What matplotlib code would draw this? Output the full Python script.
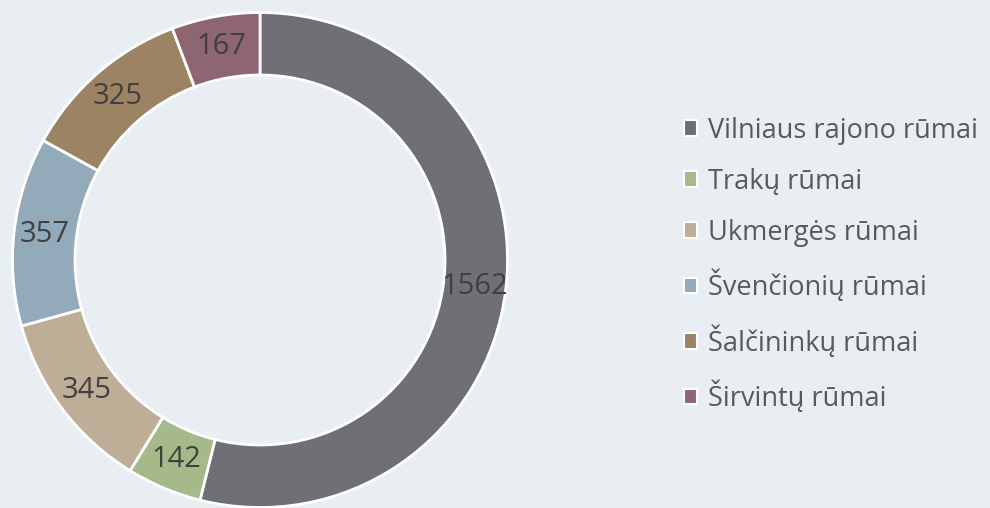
import matplotlib.pyplot as plt

# Data
labels = ["Vilniaus rajono rūmai", "Trakų rūmai", "Ukmergės rūmai",
          "Švenčionių rūmai", "Šalčininkų rūmai", "Širvintų rūmai"]
values = [1562, 142, 345, 357, 325, 167]
colors = ["#706F75", "#A6B98A", "#BEAE98", "#93AABB", "#9C8364", "#8E6672"]

bg = "#E8EEF1"
plt.rcParams['font.family'] = ['Open Sans', 'DejaVu Sans']

fig = plt.figure(figsize=(9.9, 5.08), dpi=100, facecolor=bg)
# pie axes: 500x500 px, centre at (260, 260 from top)
ax = fig.add_axes([10 / 990, -2 / 508, 500 / 990, 500 / 508])
ax.set_facecolor(bg)

total = sum(values)
wedges, _, autotexts = ax.pie(
    values, colors=colors, startangle=90, counterclock=False,
    radius=0.99, wedgeprops=dict(width=0.25, edgecolor="white", linewidth=2),
    autopct=lambda p: f"{round(p * total / 100)}", pctdistance=0.875,
    textprops=dict(color="#404040", fontsize=21))
ax.set_xlim(-1, 1)
ax.set_ylim(-1, 1)
ax.set_aspect("equal")
ax.axis("off")

leg = fig.legend(wedges, labels, loc="center left", bbox_to_anchor=(673 / 990, 243 / 508),
                 frameon=False, fontsize=19.5, labelcolor="#595959",
                 handlelength=0.5, handleheight=0.5, handletextpad=0.4,
                 labelspacing=0.85, borderaxespad=0)
for h in leg.legend_handles:
    h.set_edgecolor("white")
    h.set_linewidth(1.5)

fig.savefig("out.png", dpi=100, facecolor=bg)
